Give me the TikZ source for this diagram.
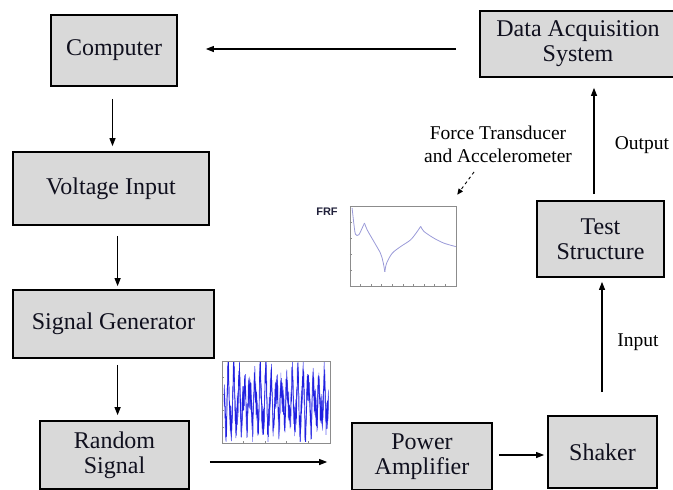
\documentclass[tikz,border=0pt]{standalone}
\usepackage{fontspec}
\setmainfont{Liberation Serif}
\setsansfont{Liberation Sans}
\usetikzlibrary{arrows.meta,calc}
\definecolor{boxgray}{HTML}{D9D9D9}
\definecolor{frfcol}{HTML}{9A9AD8}
\definecolor{sigblue}{HTML}{2020E0}
\definecolor{siglight}{HTML}{6A6AF0}
\definecolor{axgray}{HTML}{8C8C8C}
\definecolor{frflabel}{HTML}{20203A}
\definecolor{textnavy}{HTML}{10101E}
\begin{document}
\begin{tikzpicture}[x=1pt,y=-1pt,
  box/.style={draw, line width=1.8pt, fill=boxgray, inner sep=0pt, align=center,
    text=textnavy, font=\fontsize{24}{25}\selectfont},
  arr/.style={line width=1.1pt, -{Triangle[length=8pt,width=6pt]}},
  lbl/.style={font=\fontsize{19.5}{23}\selectfont, align=center, inner sep=0pt},
  axes/.style={draw=axgray, line width=0.5pt, inner sep=0pt}]
\useasboundingbox (0,0) rectangle (673,490);

% boxes
\node[box, minimum width=126pt, minimum height=71pt] (comp) at (114,50.5) {Computer};
\node[box, minimum width=196pt, minimum height=66pt] (das) at (578,44) {Data Acquisition\\System};
\node[box, minimum width=196pt, minimum height=73pt] (volt) at (111,188.5) {Voltage Input};
\node[box, minimum width=201pt, minimum height=68pt] (sig) at (113.5,324) {Signal Generator};
\node[box, minimum width=149pt, minimum height=68pt] (rand) at (114.5,455) {Random\\Signal};
\node[box, minimum width=140pt, minimum height=67pt] (pow) at (422,456.5) {Power\\Amplifier};
\node[box, minimum width=109pt, minimum height=72pt] (shak) at (602.5,452) {Shaker};
\node[box, minimum width=127pt, minimum height=76pt] (test) at (600.5,239) {Test\\Structure};

% labels
\node[lbl] (outl) at (642,145) {Output};
\node[lbl] (inl) at (638,342) {Input};
\node[lbl] (ftl) at (498,144.5) {Force Transducer\\and Accelerometer};

% arrows
\draw[arr] ([xshift=-23pt,yshift=-5pt]das.west) -- ([xshift=28pt,yshift=1.5pt]comp.east);
\draw[arr] ([xshift=-1.5pt,yshift=-12pt]comp.south) -- ([xshift=1.5pt,yshift=5pt]volt.north);
\draw[arr] ([xshift=6.6pt,yshift=-10pt]volt.south) -- ([xshift=4.1pt,yshift=3pt]sig.north);
\draw[arr] ([xshift=4.1pt,yshift=-6pt]sig.south) -- ([xshift=3.1pt,yshift=5pt]rand.north);
\draw[arr] ([xshift=20pt,yshift=-7pt]rand.east) -- ([xshift=-24pt,yshift=-5.5pt]pow.west);
\draw[arr] ([xshift=6pt,yshift=1.5pt]pow.east) -- ([xshift=-3pt,yshift=-3pt]shak.west);
\draw[arr] ([xshift=-0.5pt,yshift=23pt]shak.north) -- ([xshift=1.5pt,yshift=-4pt]test.south);
\draw[arr] ([xshift=-6.5pt,yshift=6pt]test.north) -- ([xshift=16pt,yshift=-10pt]das.south);

% FRF plot
\node[axes, minimum width=106pt, minimum height=80pt] (frf) at (403,246) {};
\node[font=\sffamily\bfseries\fontsize{11}{12}\selectfont, text=frflabel, inner sep=0pt] (frflbl) at (327,212) {FRF};
\coordinate (dstart) at (474,172);
\draw[line width=0.9pt, dashed, -{Triangle[length=6pt,width=5pt]}] (dstart) -- ([xshift=1pt,yshift=11pt]frf.north east);
\begin{scope}[shift={(frf.south west)}, x=106pt, y=80pt]
  \foreach \i in {0,...,10} \draw[axgray, line width=0.4pt] (\i/10,0) -- ++(0,0.03);
  \foreach \j in {0,...,5} \draw[axgray, line width=0.4pt] (0,\j/5) -- ++(0.025,0);
  \draw[frfcol, line width=0.8pt] plot[smooth, tension=0.5] coordinates {(0.022,0.979) (0.038,0.79) (0.054,0.65) (0.085,0.643) (0.117,0.727) (0.139,0.79)};
  \draw[frfcol, line width=0.8pt] plot[smooth, tension=0.5] coordinates {(0.139,0.79) (0.164,0.706) (0.227,0.56) (0.29,0.412) (0.315,0.30) (0.331,0.18)};
  \draw[frfcol, line width=0.8pt] plot[smooth, tension=0.5] coordinates {(0.331,0.18) (0.347,0.286) (0.4,0.412) (0.48,0.496) (0.574,0.58) (0.637,0.685) (0.669,0.748)};
  \draw[frfcol, line width=0.8pt] plot[smooth, tension=0.5] coordinates {(0.669,0.748) (0.7,0.685) (0.795,0.6) (0.89,0.538) (1.0,0.496)};
\end{scope}

% random signal plot
\node[axes, minimum width=108pt, minimum height=82pt] (rsp) at (276,402) {};
\begin{scope}[shift={(rsp.south west)}, x=108pt, y=82pt]
  \foreach \i in {0,...,5} \draw[axgray, line width=0.4pt] (\i/5,0) -- ++(0,0.03);
  \foreach \j in {0,...,5} \draw[axgray, line width=0.4pt] (0,\j/5) -- ++(0.025,0);
  \begin{scope}
    \clip (0.02,0.02) rectangle (0.99,0.99);
    \pgfmathsetseed{11}
    \draw[siglight, line width=0.6pt] plot[domain=0.02:0.99, samples=900] (\x, {0.5+(0.26+0.08*sin(1100*\x))*sin(7300*\x)+0.1*sin(13300*\x+50)+0.2*rand});
    \pgfmathsetseed{7}
    \draw[sigblue, line width=0.45pt] plot[domain=0.02:0.99, samples=900] (\x, {0.5+(0.26+0.08*sin(1100*\x))*sin(7300*\x)+0.1*sin(13300*\x+50)+0.17*rand});
  \end{scope}
\end{scope}
\end{tikzpicture}
\end{document}
